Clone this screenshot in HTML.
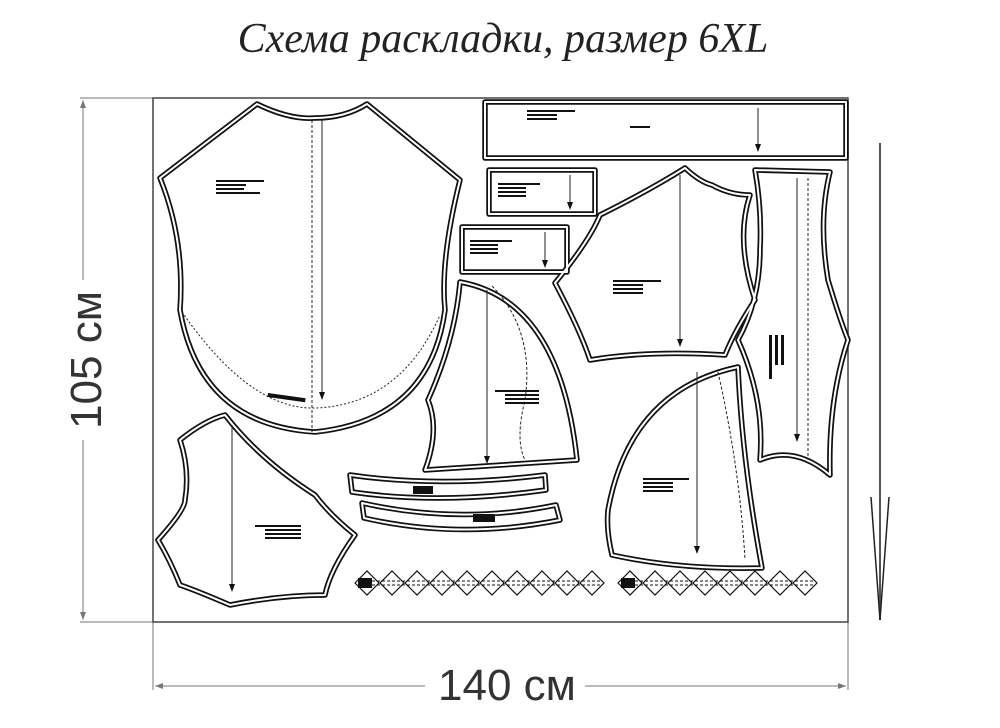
<!DOCTYPE html>
<html><head><meta charset="utf-8"><style>
html,body{margin:0;padding:0;background:#fff;width:1000px;height:728px;overflow:hidden}
svg{display:block}
</style></head><body>
<svg width="1000" height="728" viewBox="0 0 1000 728" xmlns="http://www.w3.org/2000/svg">
<text x="503" y="52" text-anchor="middle" font-family="Liberation Serif, serif" font-style="italic" font-size="42" fill="#222">Схема раскладки, размер 6XL</text>
<g stroke="#777" stroke-width="1" fill="none">
<line x1="80" y1="98" x2="153" y2="98"/><line x1="80" y1="622" x2="153" y2="622"/>
<line x1="83" y1="100" x2="83" y2="280"/><line x1="83" y1="440" x2="83" y2="620"/>
<line x1="153" y1="622" x2="153" y2="690"/><line x1="848" y1="622" x2="848" y2="690"/>
<line x1="155" y1="686" x2="425" y2="686"/><line x1="585" y1="686" x2="846" y2="686"/>
</g>
<path d="M83 100 l-3 8 h6z M83 620 l-3 -8 h6z M155 686 l8 -3 v6z M846 686 l-8 -3 v6z" fill="#777"/>
<text transform="translate(101,360) rotate(-90)" text-anchor="middle" font-family="Liberation Sans, sans-serif" font-size="44" fill="#333">105 см</text>
<text x="507" y="700" text-anchor="middle" font-family="Liberation Sans, sans-serif" font-size="44" fill="#333">140 см</text>
<line x1="880" y1="143" x2="880" y2="620" stroke="#555" stroke-width="2"/>
<path d="M871 497 L880 620 L889 497" fill="none" stroke="#222" stroke-width="1.5"/>
<rect x="153" y="98" width="695" height="524" fill="none" stroke="#444" stroke-width="1.5"/>
<defs>
<g id="shapes">
<path d="M257 104 Q290 120 315 118 Q345 118 367 104 L460 180 Q440 260 445 310 Q430 420 315 432 Q200 425 180 310 Q185 240 160 178 Z"/>
<rect x="485" y="102" width="361" height="56"/>
<rect x="489" y="170" width="106" height="44"/>
<rect x="462" y="227" width="105" height="45"/>
<path d="M555 283 Q590 240 600 215 Q650 190 685 168 Q700 182 712 185 Q730 195 750 195 Q735 240 755 300 Q735 330 725 355 Q650 350 590 360 Q580 330 555 283 Z"/>
<path d="M755 170 L830 172 Q818 220 828 280 Q840 320 848 340 Q828 400 830 475 Q795 445 760 460 Q765 400 738 340 Q760 300 760 250 Q762 210 755 170 Z"/>
<path d="M460 282 Q560 300 577 460 Q500 465 425 470 Q440 430 428 400 Q455 340 460 282 Z"/>
<path d="M608 510 Q630 390 738 367 Q742 460 762 568 Q680 570 612 555 Q606 530 608 510 Z"/>
<path d="M180 440 Q205 420 225 415 Q260 460 315 495 Q330 515 355 535 Q330 570 325 595 Q280 595 230 605 Q195 590 180 585 Q170 560 158 540 Q185 510 185 500 Q190 470 180 440 Z"/>
<path d="M350 475 Q440 488 545 475 L546 490 Q440 505 352 492 Z"/>
<path d="M362 503 Q460 525 556 505 L560 520 Q460 540 364 518 Z"/>
</g>
</defs>
<g fill="none" stroke-linejoin="round">
<use href="#shapes" stroke="#111" stroke-width="5.5"/>
<use href="#shapes" stroke="#fff" stroke-width="2"/>
</g>
<g fill="none" stroke="#222" stroke-width="1">
<path d="M182 312 Q250 410 315 408 Q400 405 440 315" stroke-dasharray="2 2"/>
<line x1="312" y1="120" x2="312" y2="432" stroke-dasharray="3 2"/>
<line x1="322" y1="120" x2="322" y2="398"/>
<line x1="758" y1="108" x2="758" y2="150"/>
<line x1="570" y1="175" x2="570" y2="208"/>
<line x1="545" y1="232" x2="545" y2="266"/>
<line x1="680" y1="175" x2="680" y2="345"/>
<line x1="797" y1="178" x2="797" y2="440"/>
<line x1="808" y1="178" x2="808" y2="460" stroke-dasharray="3 2"/>
<line x1="487" y1="290" x2="487" y2="462"/>
<path d="M492 286 Q535 330 525 400 Q515 440 525 460" stroke-dasharray="3 2"/>
<line x1="697" y1="372" x2="697" y2="552"/>
<path d="M718 372 Q740 470 745 560" stroke-dasharray="3 2"/>
<line x1="232" y1="425" x2="232" y2="590"/>
</g>
<g fill="#111">
<path d="M322 400 l-3 -8 h6z M758 152 l-3 -8 h6z M680 347 l-3 -8 h6z M797 442 l-3 -8 h6z M487 464 l-3 -8 h6z M697 554 l-3 -8 h6z M232 592 l-3 -8 h6z M570 210 l-3 -8 h6z M545 268 l-3 -8 h6z"/>
<rect x="216" y="180" width="48" height="2"/><rect x="216" y="184" width="30" height="2"/><rect x="216" y="188" width="28" height="2"/><rect x="216" y="192" width="44" height="2"/>
<rect x="268" y="393" width="38" height="4" transform="rotate(8 268 393)"/>
<rect x="527" y="110" width="48" height="2"/><rect x="527" y="114" width="30" height="2"/><rect x="527" y="118" width="30" height="2"/><rect x="630" y="126" width="20" height="2"/>
<rect x="498" y="183" width="42" height="2"/><rect x="498" y="187" width="28" height="2"/><rect x="498" y="191" width="28" height="2"/><rect x="498" y="195" width="28" height="2"/>
<rect x="470" y="240" width="42" height="2"/><rect x="470" y="244" width="28" height="2"/><rect x="470" y="248" width="28" height="2"/><rect x="470" y="252" width="28" height="2"/>
<rect x="613" y="280" width="48" height="2"/><rect x="613" y="284" width="30" height="2"/><rect x="613" y="288" width="30" height="2"/><rect x="613" y="292" width="30" height="2"/>
<rect x="769" y="335" width="3" height="44"/><rect x="775" y="335" width="3" height="30"/><rect x="781" y="335" width="3" height="30"/>
<rect x="495" y="390" width="44" height="2"/><rect x="505" y="394" width="34" height="2"/><rect x="505" y="398" width="34" height="2"/><rect x="505" y="402" width="34" height="2"/>
<rect x="643" y="478" width="46" height="2"/><rect x="643" y="482" width="30" height="2"/><rect x="643" y="486" width="30" height="2"/><rect x="643" y="490" width="30" height="2"/>
<rect x="255" y="525" width="46" height="2"/><rect x="265" y="529" width="36" height="2"/><rect x="265" y="533" width="36" height="2"/><rect x="265" y="537" width="36" height="2"/>
<rect x="413" y="486" width="20" height="8"/><rect x="473" y="514" width="22" height="8"/>
<rect x="358" y="578" width="14" height="10"/><rect x="621" y="578" width="14" height="10"/>
</g>
<g fill="none" stroke="#111" stroke-width="1.2">
<path d="M355 583 l12 -12 l12 12 l-12 12z M380 583 l12 -12 l12 12 l-12 12z M405 583 l12 -12 l12 12 l-12 12z M430 583 l12 -12 l12 12 l-12 12z M455 583 l12 -12 l12 12 l-12 12z M480 583 l12 -12 l12 12 l-12 12z M505 583 l12 -12 l12 12 l-12 12z M530 583 l12 -12 l12 12 l-12 12z M555 583 l12 -12 l12 12 l-12 12z M580 583 l12 -12 l12 12 l-12 12z"/>
<path d="M618 583 l12 -12 l12 12 l-12 12z M643 583 l12 -12 l12 12 l-12 12z M668 583 l12 -12 l12 12 l-12 12z M693 583 l12 -12 l12 12 l-12 12z M718 583 l12 -12 l12 12 l-12 12z M743 583 l12 -12 l12 12 l-12 12z M768 583 l12 -12 l12 12 l-12 12z M793 583 l12 -12 l12 12 l-12 12z"/>
<path d="M372 581 H602 M372 585 H602 M635 581 H815 M635 585 H815" stroke-dasharray="3 2" stroke-width="1"/>
</g>
</svg>
</body></html>
